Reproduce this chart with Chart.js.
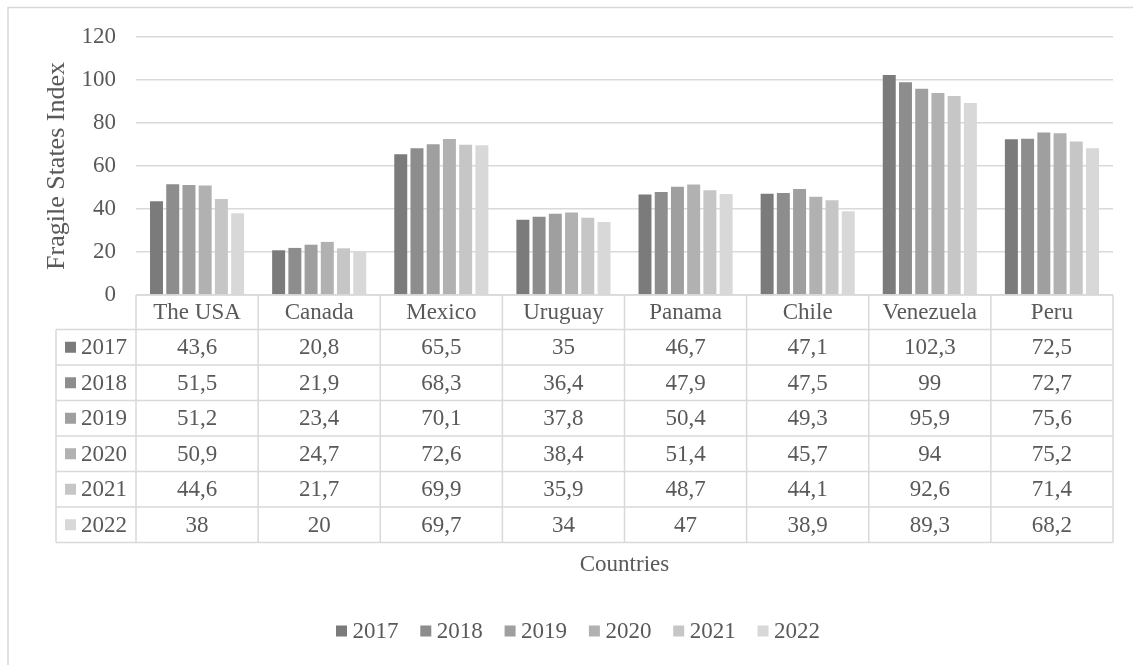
<!DOCTYPE html>
<html>
<head>
<meta charset="utf-8">
<title>Fragile States Index</title>
<script src="https://cdn.jsdelivr.net/npm/chart.js@4.4.1/dist/chart.umd.min.js"></script>
<style>
  html, body { margin: 0; padding: 0; background: #ffffff; }
  #wrap { position: relative; width: 1133px; height: 665px; }
</style>
</head>
<body>
<div id="wrap"><canvas id="fsiChart" width="1133" height="665"></canvas></div>
<script>
// Fragile States Index by country, 2017-2022
const countries = ['The USA', 'Canada', 'Mexico', 'Uruguay', 'Panama', 'Chile', 'Venezuela', 'Peru'];
const years = ['2017', '2018', '2019', '2020', '2021', '2022'];

const fsi2017 = [43.6, 20.8, 65.5, 35.0, 46.7, 47.1, 102.3, 72.5];
const fsi2018 = [51.5, 21.9, 68.3, 36.4, 47.9, 47.5, 99.0, 72.7];
const fsi2019 = [51.2, 23.4, 70.1, 37.8, 50.4, 49.3, 95.9, 75.6];
const fsi2020 = [50.9, 24.7, 72.6, 38.4, 51.4, 45.7, 94.0, 75.2];
const fsi2021 = [44.6, 21.7, 69.9, 35.9, 48.7, 44.1, 92.6, 71.4];
const fsi2022 = [38.0, 20.0, 69.7, 34.0, 47.0, 38.9, 89.3, 68.2];

const seriesValues = [fsi2017, fsi2018, fsi2019, fsi2020, fsi2021, fsi2022];
const seriesColors = ['#7b7b7b', '#8d8d8d', '#9f9f9f', '#b1b1b1', '#c6c6c6', '#d8d8d8'];

const FONT = '"Liberation Serif", "Times New Roman", serif';
const TEXT = '#595959';
const LINE = '#d9d9d9';

// decimal comma, as in the source table
const fmt = v => String(v).replace('.', ',');

// Data table under the plot, x-axis title, legend and outer frame
const dataTablePlugin = {
  id: 'dataTable',
  afterDraw(chart) {
    const { ctx, chartArea } = chart;
    const x = chart.scales.x;
    const n = countries.length;
    const cellW = (chartArea.right - chartArea.left) / n;
    const headerH = 34.5;
    const rowH = 35.5;
    const top = chartArea.bottom;
    const labelLeft = 56;

    ctx.save();
    ctx.strokeStyle = LINE;
    ctx.lineWidth = 1.5;

    // horizontal rules
    const rowTops = [];
    for (let r = 0; r <= years.length; r++) rowTops.push(top + headerH + r * rowH);
    ctx.beginPath();
    ctx.moveTo(chartArea.left, top);
    ctx.lineTo(chartArea.right, top);
    rowTops.forEach(y => {
      ctx.moveTo(labelLeft, y);
      ctx.lineTo(chartArea.right, y);
    });
    // vertical rules
    for (let i = 0; i <= n; i++) {
      const xx = chartArea.left + i * cellW;
      ctx.moveTo(xx, top);
      ctx.lineTo(xx, rowTops[rowTops.length - 1]);
    }
    ctx.moveTo(labelLeft, rowTops[0]);
    ctx.lineTo(labelLeft, rowTops[rowTops.length - 1]);
    ctx.stroke();

    ctx.fillStyle = TEXT;
    ctx.font = '23px ' + FONT;
    ctx.textAlign = 'center';
    ctx.textBaseline = 'middle';

    // header: country names
    countries.forEach((c, i) => {
      ctx.fillText(c, x.getPixelForValue(i), top + headerH / 2 + 1);
    });

    // rows: one per year, with its colour key
    chart.data.datasets.forEach((ds, r) => {
      const cy = rowTops[r] + rowH / 2 + 1;
      ctx.fillStyle = ds.backgroundColor;
      ctx.fillRect(65, cy - 6.5, 11, 11);
      ctx.fillStyle = TEXT;
      ctx.textAlign = 'left';
      ctx.fillText(ds.label, 81, cy);
      ctx.textAlign = 'center';
      ds.data.forEach((v, i) => {
        ctx.fillText(fmt(v), x.getPixelForValue(i), cy);
      });
    });

    // x-axis title
    ctx.fillText('Countries', (chartArea.left + chartArea.right) / 2, 565);

    // legend
    const legendY = 632;
    chart.data.datasets.forEach((ds, i) => {
      const lx = 336 + i * 84.3;
      ctx.fillStyle = ds.backgroundColor;
      ctx.fillRect(lx, legendY - 6.5, 11, 11);
      ctx.fillStyle = TEXT;
      ctx.textAlign = 'left';
      ctx.fillText(ds.label, lx + 16.5, legendY);
    });

    // outer frame
    ctx.strokeStyle = LINE;
    ctx.lineWidth = 1.5;
    ctx.beginPath();
    ctx.moveTo(8, 670);
    ctx.lineTo(8, 7.5);
    ctx.lineTo(1140, 7.5);
    ctx.stroke();
    ctx.restore();
  }
};

new Chart(document.getElementById('fsiChart'), {
  type: 'bar',
  data: {
    labels: countries,
    datasets: years.map((y, i) => ({
      label: y,
      data: seriesValues[i],
      backgroundColor: seriesColors[i],
      borderWidth: 0,
      categoryPercentage: 0.797,
      barPercentage: 0.8,
    })),
  },
  options: {
    responsive: false,
    animation: false,
    layout: { padding: { left: 0, top: 37, right: 20, bottom: 370 } },
    plugins: {
      legend: { display: false },
      tooltip: { enabled: false },
    },
    scales: {
      x: { display: false },
      y: {
        min: 0,
        max: 120,
        ticks: { stepSize: 20, color: TEXT, padding: 20, font: { family: FONT, size: 23 } },
        grid: { color: LINE, lineWidth: 1.5, drawTicks: false },
        border: { display: false },
        title: {
          display: true,
          text: 'Fragile States Index',
          color: TEXT,
          font: { family: FONT, size: 26 },
          padding: { top: 42, bottom: 0 },
        },
        afterFit(scale) { scale.width = 136; },
      },
    },
  },
  plugins: [dataTablePlugin],
});
</script>
</body>
</html>
